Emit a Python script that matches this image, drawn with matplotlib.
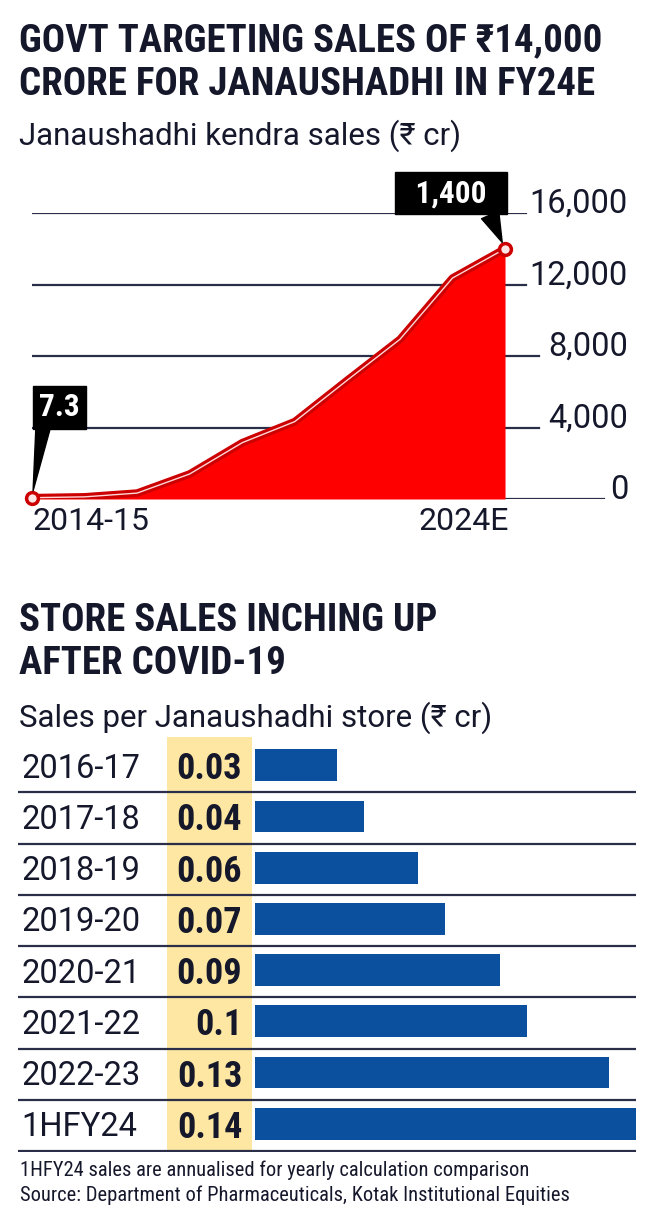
import matplotlib
matplotlib.use("Agg")
import matplotlib.pyplot as plt
from matplotlib import font_manager as fm
import numpy as np

# ---- data ----
years = ["2014-15", "2015-16", "2016-17", "2017-18", "2018-19",
         "2019-20", "2020-21", "2021-22", "2022-23", "2024E"]
sales = [73, 120, 330, 1400, 3150, 4330, 6650, 8930, 12360, 14000]
y_ticks = [0, 4000, 8000, 12000, 16000]
y_tick_labels = ["0", "4,000", "8,000", "12,000", "16,000"]
first_label = "7.3"
last_label = "1,400"

store_years = ["2016-17", "2017-18", "2018-19", "2019-20",
               "2020-21", "2021-22", "2022-23", "1HFY24"]
store_sales = [0.03, 0.04, 0.06, 0.07, 0.09, 0.1, 0.13, 0.14]
store_labels = ["0.03", "0.04", "0.06", "0.07", "0.09", "0.1", "0.13", "0.14"]

# ---- fonts: condensed face for headings, regular for labels ----
names = {f.name for f in fm.fontManager.ttflist}
cond_fam = None
for cand in ["Roboto Condensed", "Open Sans Condensed", "Liberation Sans Narrow"]:
    if cand in names:
        cond_fam = cand
        break
stretch = "normal"
if cond_fam is None:
    cond_fam = "DejaVu Sans"
    stretch = "condensed"
FAM = [cond_fam, "DejaVu Sans"]
REG = ["Roboto", "DejaVu Sans"] if "Roboto" in names else ["DejaVu Sans"]

W, H = 660, 1220
DARK = "#15172b"
GRID = "#2b2e48"
RED = "#ff0000"
BLUE = "#0b4f9f"
YELLOW = "#fde7a2"


def rect(left, top, right, bottom):
    return [left / W, 1 - bottom / H, (right - left) / W, (bottom - top) / H]


def ftext(x, y, s, size, weight="normal", fam=None):
    if fam is None:
        fig.text(x / W, 1 - y / H, s, fontsize=size, fontweight=weight,
                 family=FAM, fontstretch=stretch, color=DARK, va="baseline")
    else:
        fig.text(x / W, 1 - y / H, s, fontsize=size, fontweight=weight,
                 family=fam, color=DARK, va="baseline")


fig = plt.figure(figsize=(W / 100, H / 100), dpi=100)
fig.patch.set_facecolor("white")

# titles
ftext(19, 51, "GOVT TARGETING SALES OF ₹14,000", 28, "heavy")
ftext(19, 95, "CRORE FOR JANAUSHADHI IN FY24E", 28, "heavy")
ftext(19, 145, "Janaushadhi kendra sales (₹ cr)", 22.5, fam=REG)

ftext(19, 631, "STORE SALES INCHING UP", 28, "heavy")
ftext(19, 674, "AFTER COVID-19", 28, "heavy")
ftext(19, 727, "Sales per Janaushadhi store (₹ cr)", 22.5, fam=REG)

ftext(20, 1176, "1HFY24 sales are annualised for yearly calculation comparison", 14.8)
ftext(20, 1201, "Source: Department of Pharmaceuticals, Kotak Institutional Equities", 14.8)

# ---- area chart ----
ax = fig.add_axes(rect(32, 213, 628, 499))
x = np.arange(len(sales))
ax.set_xlim(0, 11.34)
ax.set_ylim(0, 16000)
ax.axis("off")

grid_end = {0: 0.96, 4000: 0.851, 8000: 0.851, 12000: 0.829, 16000: 0.829}
for t, lab in zip(y_ticks, y_tick_labels):
    ax.axhline(t, xmin=0, xmax=grid_end[t], color=GRID, lw=1.6, zorder=1)
    ax.text(1.0, t, lab, transform=ax.get_yaxis_transform(), ha="right",
            va="baseline", fontsize=23.5, family=REG, color=DARK)

ax.fill_between(x, sales, 0, color=RED, lw=0, zorder=2)
ax.plot(x, sales, color="#cc0000", lw=5.5, zorder=3, solid_capstyle="round")
ax.plot(x, sales, color="#ffd6d6", lw=1.0, zorder=4)
ax.plot([x[0], x[-1]], [sales[0], sales[-1]], "o", ms=8.5, mfc="#ffe6e6",
        mec="#cc0000", mew=2.5, zorder=5, clip_on=False)

ax.annotate(years[0], (x[0], 0), xytext=(0, -6), textcoords="offset points",
            ha="left", va="top", fontsize=23, family=REG, color=DARK)
ax.annotate(years[-1], (x[-1], 0), xytext=(3, -6), textcoords="offset points",
            ha="right", va="top", fontsize=23, family=REG, color=DARK)

box = dict(boxstyle="square,pad=0.2", fc="black", ec="black")
ax.annotate("  " + last_label + "  ", (x[-1], sales[-1]), xytext=(-39, 40),
            textcoords="offset points", ha="center", va="center",
            fontsize=22.5, fontweight="bold", family=FAM, fontstretch=stretch,
            color="white", bbox=box, zorder=6, annotation_clip=False,
            arrowprops=dict(arrowstyle="wedge,tail_width=0.6,shrink_factor=0.5",
                            fc="black", ec="black", relpos=(0.85, 0.1),
                            shrinkA=0, shrinkB=5))
ax.annotate(first_label, (x[0], sales[0]), xytext=(20, 65),
            textcoords="offset points", ha="center", va="center",
            fontsize=22.5, fontweight="bold", family=FAM, fontstretch=stretch,
            color="white", bbox=box, zorder=6, annotation_clip=False,
            arrowprops=dict(arrowstyle="wedge,tail_width=0.45,shrink_factor=0.5",
                            fc="black", ec="black", relpos=(0.12, 0.1),
                            shrinkA=0, shrinkB=5))

# ---- bar chart ----
bx = fig.add_axes(rect(18, 737, 636, 1152))
n = len(store_sales)
bx.set_xlim(-0.0871, 0.1401)
bx.set_ylim(n - 0.45, -0.55)
bx.axis("off")

bx.axvspan(-0.0322, -0.0009, color=YELLOW, lw=0, zorder=0)
for i in range(n):
    bx.axhline(i + 0.53, color=GRID, lw=1.6, zorder=1)
bx.barh(np.arange(n), store_sales, height=0.62, color=BLUE, zorder=2)

yt = bx.get_yaxis_transform()
for i, (cat, lab) in enumerate(zip(store_years, store_labels)):
    bx.text(0.005, i, cat, transform=yt, ha="left", va="center_baseline",
            fontsize=23.5, family=REG, color=DARK)
    bx.text(0.3628, i, lab, transform=yt, ha="right", va="center_baseline",
            fontsize=26, fontweight="heavy", family=FAM, fontstretch=stretch,
            color=DARK)

fig.savefig("out.png", dpi=100, facecolor="white")
